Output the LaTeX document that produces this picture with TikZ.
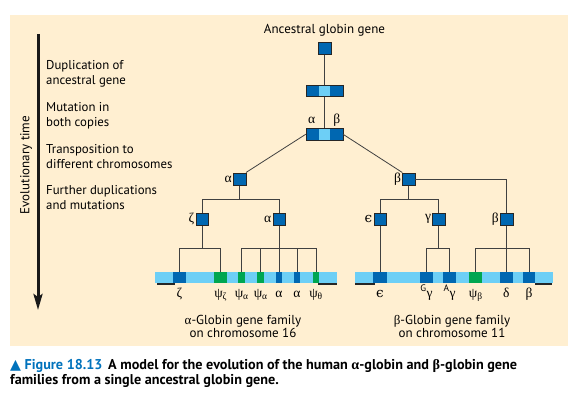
\documentclass[tikz,border=0pt]{standalone}
\usepackage{fontspec}
\setmainfont{PT Sans}
\newfontfamily\grk{Liberation Serif}
\newfontfamily\grkb{DejaVu Serif}
\newfontfamily\sym{DejaVu Sans}
\usetikzlibrary{positioning,arrows.meta}
\definecolor{darkgene}{RGB}{0,103,177}
\definecolor{lightgene}{RGB}{109,207,246}
\definecolor{pseudo}{RGB}{0,166,81}
\definecolor{cream}{RGB}{255,239,209}
\definecolor{capblue}{RGB}{0,114,188}
\definecolor{inkline}{RGB}{64,64,64}
\begin{document}
\begin{tikzpicture}
      [x=1pt,y=-1pt,
      gene/.style={rectangle,draw=black!85,fill=darkgene,inner sep=0pt,minimum size=12.6pt},
      dupbox/.style={rectangle,draw=black!85,fill=darkgene,inner sep=0pt,
        minimum width=36.7pt,minimum height=11.7pt,
        path picture={\fill[lightgene] ([xshift=-5.9pt]path picture bounding box.south)
          rectangle ([xshift=5.9pt]path picture bounding box.north);}},
      seg/.style={rectangle,inner sep=0pt,minimum height=11.6pt},
      glab/.style={font=\grk\fontsize{13.5}{13.5}\selectfont,inner sep=1pt},
      steptxt/.style={font=\fontsize{12.8}{15}\selectfont,align=left,anchor=west,inner sep=0pt},
      famtxt/.style={font=\fontsize{13}{13.5}\selectfont,align=center},
      tree/.style={draw=inkline,line width=0.8pt}]
      \useasboundingbox (0,0) rectangle (568,396);
      \fill[cream] (10,15) rectangle (568,346);
      % time axis
      \coordinate (ttop) at (38,34);
      \coordinate (tend) at (38,310);
      \draw[line width=3pt,draw=black!90,-{Stealth[length=16pt,width=9pt,inset=3pt]}] (ttop) -- (tend);
      \node[rotate=90,font=\fontsize{13}{13}\selectfont] (time) at (26,165) {Evolutionary time};
      \node[steptxt] (s1) at (46,74.2) {Duplication of\\ancestral gene};
      \node[steptxt] (s2) at (46,116) {Mutation in\\both copies};
      \node[steptxt] (s3) at (46,156.5) {Transposition to\\different chromosomes};
      \node[steptxt] (s4) at (46,197.5) {Further duplications\\and mutations};
      % ancestral gene and its copies
      \node[font=\fontsize{13}{13}\selectfont] (title) at (324.5,30.7) {Ancestral globin gene};
      \node[gene] (anc) at (324.4,48.3) {};
      \node[dupbox] (dup1) at (324.4,90.8) {};
      \node[dupbox] (dup2) at (324.4,134.2) {};
      \node[glab] at (311.7,120) {α};
      \node[glab] at (336.7,120) {β};
      \node[gene] (a) at (239.5,179) {};
      \node[gene] (b) at (408.8,179) {};
      \node[glab,left=0pt of a] {α};
      \node[glab,left=0pt of b] {β};
      \node[gene] (z) at (202,219.3) {};
      \node[gene] (a2) at (279,219.3) {};
      \node[gene] (e) at (380,219.3) {};
      \node[gene] (g) at (438.8,219.3) {};
      \node[gene] (bb) at (506.4,219.3) {};
      \node[glab,left=0pt of z] {ζ};
      \node[glab,left=0pt of a2] {α};
      \node[glab,left=0pt of e] {\grkb ϵ};
      \node[glab,left=0pt of g] {γ};
      \node[glab,left=0pt of bb] {β};
      % chromosomes
      \fill[lightgene] (155,271.7) rectangle (337,283.3);
      \fill[lightgene] (355,271.7) rectangle (553.3,283.3);
      \draw[line width=1.2pt,black!85] (157,284) -- (175,284) (318,284) -- (337,284);
      \draw[line width=1.2pt,black!85] (355,284) -- (375,284) (535,284) -- (552,284);
      \foreach \n/\c/\w/\col in {zeta/179.5/12.4/darkgene, psiz/220.7/13.3/pseudo,
          psia/241.7/6.7/pseudo, psib/260.7/6.7/pseudo, alpa/279/6.6/darkgene,
          alpb/297/6/darkgene, psit/316/6.6/pseudo, eps/380/13.4/darkgene,
          ggam/426.4/12.7/darkgene, agam/449.7/12.7/darkgene, psibe/475.8/13/pseudo,
          delt/506.4/12.7/darkgene, beta/529/12.6/darkgene}
        \node[seg,fill=\col,minimum width=\w pt] (\n) at (\c,277.5) {};
      % gene names
      \node[glab,anchor=base] at (zeta |- 0,297) {ζ};
      \node[glab,anchor=base] at (psiz |- 0,297) {ψ\textsubscript{ζ}};
      \node[glab,anchor=base] at (psia |- 0,297) {ψ\textsubscript{α}};
      \node[glab,anchor=base] at (psib |- 0,297) {ψ\textsubscript{α}};
      \node[glab,anchor=base] at (alpa |- 0,297) {α};
      \node[glab,anchor=base] at (alpb |- 0,297) {α};
      \node[glab,anchor=base] at (psit |- 0,297) {ψ\textsubscript{θ}};
      \node[glab,anchor=base] at (eps |- 0,297) {\grkb ϵ};
      \node[glab,anchor=base] at (ggam |- 0,297) {\textsuperscript{\normalfont G}γ};
      \node[glab,anchor=base] at (agam |- 0,297) {\textsuperscript{\normalfont A}γ};
      \node[glab,anchor=base] at (psibe |- 0,297) {ψ\textsubscript{β}};
      \node[glab,anchor=base] at (delt |- 0,297) {δ};
      \node[glab,anchor=base] at (beta |- 0,297) {β};
      \node[famtxt] (afam) at (243,326.5) {{\grk α}-Globin gene family\\on chromosome 16};
      \node[famtxt] (bfam) at (452,326.5) {{\grk β}-Globin gene family\\on chromosome 11};
      % tree
      \coordinate (aj) at (239.5,199.3);
      \coordinate (bj) at (408.8,199.3);
      \coordinate (zj) at (202,248.7);
      \coordinate (a2j) at (279,248.7);
      \coordinate (gj) at (438.8,248.7);
      \coordinate (bbj) at (506.4,248.7);
      \path[tree] (anc) -- (dup1);
      \path[tree] (dup1) -- (dup2);
      \path[tree] (dup2.west) -- (a.north east);
      \path[tree] (dup2.east) -- (b.north west);
      \path[tree] (a) -- (aj);
      \path[tree] (z) |- (aj) -| (a2);
      \path[tree] (b) -| (bb);
      \path[tree] (b) -- (bj);
      \path[tree] (e) |- (bj) -| (g);
      \path[tree] (z) -- (zj);
      \path[tree] (zeta) |- (zj) -| (psiz);
      \path[tree] (a2) -- (alpa);
      \path[tree] (psia) |- (a2j) -| (psit);
      \path[tree] (psib) -- (psib |- a2j);
      \path[tree] (alpb) -- (alpb |- a2j);
      \path[tree] (e) -- (eps);
      \path[tree] (g) -- (gj);
      \path[tree] (ggam) |- (gj) -| (agam);
      \path[tree] (bb) -- (delt);
      \path[tree] (psibe) |- (bbj) -| (beta);
      % caption
      \node[anchor=west,inner sep=0pt,align=left,font=\bfseries\fontsize{14.2}{15}\selectfont] (cap) at (10,373)
        {\textcolor{capblue}{{\sym ▲} Figure 18.13}\hspace{0.4em}A model for the evolution of the human {\grk α}-globin and {\grk β}-globin gene\\families from a single ancestral globin gene.};
    \end{tikzpicture}
\end{document}
